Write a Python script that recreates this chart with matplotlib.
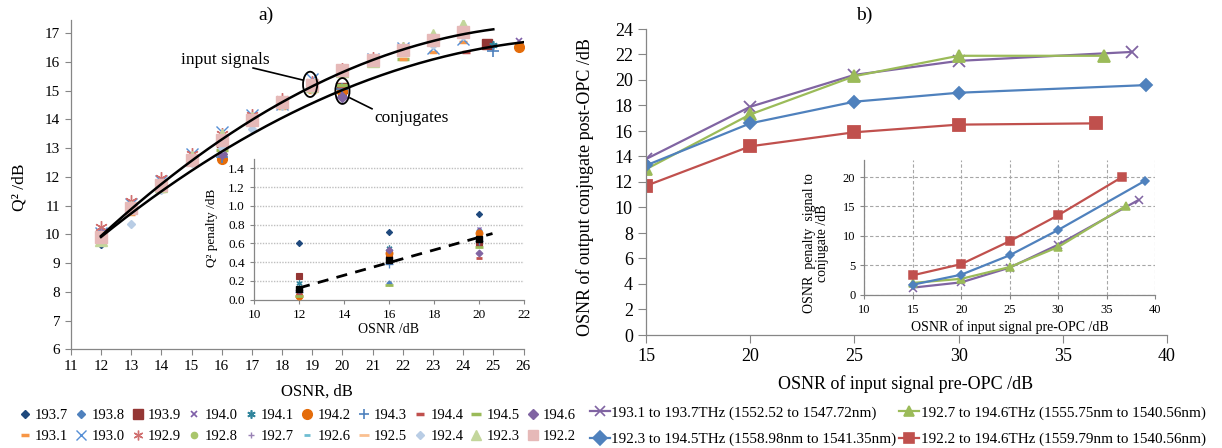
import matplotlib
matplotlib.use("Agg")
import matplotlib.pyplot as plt
import numpy as np
from matplotlib.lines import Line2D
from matplotlib.patches import Ellipse

plt.rcParams["font.family"] = ["Liberation Serif", "DejaVu Serif"]

# ---------------- panel a) data ----------------
osnr_input = [12, 13, 14, 15, 16, 17, 18, 19, 20, 21, 22, 23, 24]
q2_1931 = [9.80, 10.70, 11.50, 12.45, 13.45, 13.85, 14.40, 14.95, 15.60, 15.90, 16.10, 16.35, 16.70]
q2_1930 = [10.05, 11.05, 11.85, 12.80, 13.55, 14.15, 14.55, 15.40, 15.70, 16.10, 16.50, 16.50, 16.80]
q2_1929 = [10.25, 11.15, 11.95, 12.80, 13.50, 14.15, 14.70, 15.30, 15.75, 16.15, 16.50, 16.85, 17.10]
q2_1928 = [9.80, 10.80, 11.60, 12.50, 13.15, 13.85, 14.50, 15.05, 15.60, 16.00, 16.35, 16.70, 17.00]
q2_1927 = [10.10, 11.05, 11.85, 12.75, 13.40, 14.10, 14.70, 15.30, 15.75, 16.15, 16.55, 16.85, 17.10]
q2_1926 = [9.95, 10.90, 11.70, 12.60, 13.25, 13.95, 14.60, 15.15, 15.70, 16.05, 16.45, 16.75, 17.05]
q2_1925 = [9.90, 10.85, 11.65, 12.55, 13.20, 13.90, 14.55, 15.10, 15.65, 16.00, 16.40, 16.70, 17.00]
q2_1924 = [9.85, 10.35, 11.55, 12.50, 13.00, 13.65, 14.45, 15.05, 15.60, 15.95, 16.35, 16.60, 16.90]
q2_1923 = [9.80, 10.95, 11.70, 12.70, 13.45, 14.05, 14.60, 15.15, 15.70, 16.05, 16.50, 16.95, 17.30]
q2_1922 = [9.92, 10.91, 11.72, 12.59, 13.29, 13.98, 14.62, 15.20, 15.72, 16.07, 16.42, 16.77, 17.05]

osnr_conj = [12, 16, 20]
q2c_1937 = [9.68, 12.75, 14.85]
q2c_1938 = [9.85, 13.10, 14.95]
q2c_1939 = [9.95, 13.20, 15.10]
q2c_1940 = [10.05, 12.85, 14.95]
q2c_1941 = [9.90, 12.90, 15.00]
q2c_1942 = [9.90, 12.62, 15.00]
q2c_1943 = [9.85, 12.70, 15.05]
q2c_1944 = [9.95, 12.85, 15.15]
q2c_1945 = [9.90, 12.95, 15.20]
q2c_1946 = [10.10, 12.80, 14.78]
# extra conjugate points at high OSNR (nan = none)
hi_osnr = [np.nan, np.nan, 24.78, 25.85, 25.0, 25.85, 25.0, 24.1, 22.0, np.nan]
hi_q2 = [np.nan, np.nan, 16.62, 16.72, 16.60, 16.52, 16.38, 16.35, 16.10, np.nan]

# inset a): Q2 penalty at OSNR 12/16/20
pen_1937 = [0.60, 0.72, 0.91]
pen_1938 = [0.04, 0.18, 0.74]
pen_1939 = [0.25, 0.48, 0.60]
pen_1940 = [0.05, 0.40, 0.75]
pen_1941 = [0.18, 0.55, 0.65]
pen_1942 = [0.04, 0.50, 0.71]
pen_1943 = [0.08, 0.38, 0.62]
pen_1944 = [0.06, 0.44, 0.44]
pen_1945 = [0.04, 0.16, 0.56]
pen_1946 = [0.10, 0.53, 0.50]
pen_avg = [0.11, 0.42, 0.65]

conj_labels = ["193.7", "193.8", "193.9", "194.0", "194.1", "194.2", "194.3", "194.4", "194.5", "194.6"]
input_labels = ["193.1", "193.0", "192.9", "192.8", "192.7", "192.6", "192.5", "192.4", "192.3", "192.2"]

# ---------------- panel b) data ----------------
b_labels = ["193.1 to 193.7THz (1552.52 to 1547.72nm)",
            "192.7 to 194.6THz (1555.75nm to 1540.56nm)",
            "192.3 to 194.5THz (1558.98nm to 1541.35nm)",
            "192.2 to 194.6THz (1559.79nm to 1540.56nm)"]
osnr_in_purple = [15, 20, 25, 30, 38.3]
osnr_out_purple = [13.8, 17.9, 20.4, 21.5, 22.2]
osnr_in_green = [15, 20, 25, 30, 37]
osnr_out_green = [13.0, 17.3, 20.3, 21.9, 21.9]
osnr_in_blue = [15, 20, 25, 30, 39]
osnr_out_blue = [13.3, 16.6, 18.3, 19.0, 19.6]
osnr_in_red = [15, 20, 25, 30, 36.6]
osnr_out_red = [11.7, 14.8, 15.9, 16.5, 16.6]

# ---------------- styles ----------------
conj_styles = [
    dict(marker="D", color="#1F497D", ms=4.5),
    dict(marker="D", color="#4F81BD", ms=3.8),
    dict(marker="s", color="#943634", ms=7),
    dict(marker="x", color="#7F5FA8", ms=5, mew=1.2),
    dict(marker=(6, 2, 0), color="#31859C", ms=6, mew=1.2),
    dict(marker="o", color="#E46C0A", ms=7),
    dict(marker="+", color="#4F81BD", ms=8, mew=1.2),
    dict(marker="_", color="#C0504D", ms=6, mew=2.5),
    dict(marker="_", color="#9BBB59", ms=9, mew=2.5),
    dict(marker="D", color="#8064A2", ms=5),
]
input_styles = [
    dict(marker="_", color="#F79646", ms=6, mew=2.5),
    dict(marker="x", color="#558ED5", ms=8, mew=1.0),
    dict(marker=(6, 2, 0), color="#D07070", ms=9, mew=1.0),
    dict(marker="o", color="#A9C66B", ms=4.5),
    dict(marker="+", color="#9983B5", ms=5, mew=1.0),
    dict(marker="_", color="#6FBDD1", ms=4, mew=2),
    dict(marker="_", color="#FAC090", ms=7, mew=2),
    dict(marker="D", color="#B9CDE5", ms=4),
    dict(marker="^", color="#C3D69B", ms=8),
    dict(marker="s", color="#E6B9B8", ms=8.5),
]

AXC = "#868686"
W, H = 1222, 448


def style_axes(ax, labelsize, ticklen=4):
    for side in ("top", "right"):
        ax.spines[side].set_visible(False)
    for side in ("left", "bottom"):
        ax.spines[side].set_color(AXC)
        ax.spines[side].set_linewidth(0.9)
    ax.tick_params(direction="out", length=ticklen, color=AXC, labelsize=labelsize,
                   labelcolor="black", width=0.8)


fig = plt.figure(figsize=(W / 100, H / 100), dpi=100)

# ================= panel a =================
ax_a = fig.add_axes([70.8 / W, 1 - 349.3 / H, 452.7 / W, 329.3 / H])
style_axes(ax_a, 11)
ax_a.set_xlim(11, 26)
ax_a.set_ylim(6, 17.46)
ax_a.set_xticks(range(11, 27))
ax_a.set_yticks(range(6, 18))

conj_q2 = [q2c_1937, q2c_1938, q2c_1939, q2c_1940, q2c_1941,
           q2c_1942, q2c_1943, q2c_1944, q2c_1945, q2c_1946]
input_q2 = [q2_1931, q2_1930, q2_1929, q2_1928, q2_1927,
            q2_1926, q2_1925, q2_1924, q2_1923, q2_1922]

cx_all, cy_all = [], []
for i, (vals, st) in enumerate(zip(conj_q2, conj_styles)):
    xs = list(osnr_conj)
    ys = list(vals)
    if not np.isnan(hi_osnr[i]):
        xs.append(hi_osnr[i])
        ys.append(hi_q2[i])
    ax_a.plot(xs, ys, linestyle="none", marker=st["marker"], color=st["color"],
              ms=st["ms"], mew=st.get("mew", 1), zorder=3)
    cx_all += xs
    cy_all += ys

ix_all, iy_all = [], []
for vals, st in zip(input_q2, input_styles):
    ax_a.plot(osnr_input, vals, linestyle="none", marker=st["marker"], color=st["color"],
              ms=st["ms"], mew=st.get("mew", 1), zorder=4)
    ix_all += osnr_input
    iy_all += vals

# polynomial trendlines (order 2) through input signals and conjugates
p_in = np.polyfit(ix_all, iy_all, 2)
p_cj = np.polyfit(cx_all, cy_all, 2)
xx = np.linspace(12, 25, 200)
ax_a.plot(xx, np.polyval(p_in, xx), color="black", lw=1.8, zorder=5)
xx = np.linspace(12, 26, 200)
ax_a.plot(xx, np.polyval(p_cj, xx), color="black", lw=1.8, zorder=5)

ax_a.add_patch(Ellipse((18.93, 15.22), 0.47, 0.88, fill=False, lw=1.3, ec="black", zorder=6))
ax_a.add_patch(Ellipse((20.0, 14.99), 0.47, 0.90, fill=False, lw=1.3, ec="black", zorder=6))
ax_a.plot([17.04, 18.69], [15.79, 15.37], color="black", lw=1.2, zorder=6)
ax_a.plot([20.25, 20.98], [14.75, 14.37], color="black", lw=1.2, zorder=6)
ax_a.text(16.11, 16.07, "input signals", ha="center", va="center", fontsize=12.5)
ax_a.text(22.28, 14.05, "conjugates", ha="center", va="center", fontsize=12.5)

fig.text(266 / W, 1 - 15 / H, "a)", ha="center", va="center", fontsize=14)
fig.text(20 / W, 1 - 187 / H, "Q² /dB", rotation=90, ha="center", va="center", fontsize=12.5)
fig.text(317 / W, 1 - 392 / H, "OSNR, dB", ha="center", va="center", fontsize=12)

# inset a
ax_ai = fig.add_axes([254 / W, 1 - 299.5 / H, 270 / W, 140.6 / H])
ax_ai.patch.set_alpha(0)
style_axes(ax_ai, 9.5, ticklen=3)
ax_ai.set_xlim(10, 22)
ax_ai.set_ylim(0, 1.5)
ax_ai.set_xticks(range(10, 23, 2))
ax_ai.set_yticks(np.arange(0, 1.41, 0.2))
ax_ai.yaxis.set_major_formatter(matplotlib.ticker.FormatStrFormatter("%.1f"))
for yv in np.arange(0.2, 1.41, 0.2):
    ax_ai.axhline(yv, color="#BFBFBF", lw=1.0, ls=(0, (1, 1)), zorder=0)
pens = [pen_1937, pen_1938, pen_1939, pen_1940, pen_1941,
        pen_1942, pen_1943, pen_1944, pen_1945, pen_1946]
for vals, st in zip(pens, conj_styles):
    ax_ai.plot(osnr_conj, vals, linestyle="none", marker=st["marker"], color=st["color"],
               ms=st["ms"] * 0.7, mew=st.get("mew", 1) * 0.8, zorder=3)
ax_ai.plot(osnr_conj, pen_avg, linestyle="none", marker="s", color="black", ms=4.5, zorder=4)
p_pen = np.polyfit(osnr_conj, pen_avg, 1)
xx = np.linspace(12, 20.6, 50)
ax_ai.plot(xx, np.polyval(p_pen, xx), color="black", lw=2, ls=(0, (4, 3)), zorder=5)
ax_ai.text(0.5, -0.21, "OSNR /dB", transform=ax_ai.transAxes, ha="center", va="center", fontsize=10)
fig.text(212 / W, 1 - 228 / H, "Q² penalty /dB", rotation=90, ha="center", va="center", fontsize=9.5)

# legend a (2 rows x 10 columns)
handles, labels = [], []
for i in range(10):
    for lab, st in ((conj_labels[i], conj_styles[i]), (input_labels[i], input_styles[i])):
        handles.append(Line2D([], [], linestyle="none", marker=st["marker"], color=st["color"],
                              ms=min(st["ms"], 7), mew=st.get("mew", 1)))
        labels.append(lab)
fig.legend(handles, labels, ncol=10, loc="upper left", bbox_to_anchor=(19 / W, 1 - 409 / H),
           frameon=False, fontsize=10.5, handlelength=0.8, handletextpad=0.3,
           columnspacing=0.5, labelspacing=0.55, borderpad=0, borderaxespad=0)

# ================= panel b =================
ax_b = fig.add_axes([646 / W, 1 - 335 / H, 521 / W, 306 / H])
style_axes(ax_b, 13, ticklen=6)
ax_b.set_xlim(15, 40)
ax_b.set_ylim(0, 24)
ax_b.set_xticks(range(15, 41, 5))
ax_b.set_yticks(range(0, 25, 2))

b_series = [
    (osnr_in_purple, osnr_out_purple, "#8064A2", "x", 9, 6),
    (osnr_in_green, osnr_out_green, "#9BBB59", "^", 8, 6),
    (osnr_in_blue, osnr_out_blue, "#4F81BD", "D", 6, 4.5),
    (osnr_in_red, osnr_out_red, "#C0504D", "s", 8, 6),
]
for xin, yout, col, mk, ms, _ in b_series:
    ax_b.plot(xin, yout, color=col, marker=mk, ms=ms, lw=1.6, mew=1.3)

fig.text(864 / W, 1 - 15 / H, "b)", ha="center", va="center", fontsize=14)
fig.text(585 / W, 1 - 187 / H, "OSNR of output conjugate post-OPC /dB", rotation=90,
         ha="center", va="center", fontsize=13)
fig.text(906 / W, 1 - 384 / H, "OSNR of input signal pre-OPC /dB", ha="center", va="center", fontsize=13)

# inset b: penalty = input OSNR - output conjugate OSNR
ax_bi = fig.add_axes([864.3 / W, 1 - 294.7 / H, 290.7 / W, 134.7 / H])
ax_bi.patch.set_alpha(0)
style_axes(ax_bi, 9, ticklen=3)
ax_bi.set_xlim(10, 40)
ax_bi.set_ylim(0, 22.9)
ax_bi.set_xticks(range(10, 41, 5))
ax_bi.set_yticks(range(0, 21, 5))
ax_bi.grid(True, color="#A6A6A6", ls=(0, (3, 2)), lw=0.8)
ax_bi.set_axisbelow(True)
for xin, yout, col, mk, _, ms in b_series:
    pen = np.array(xin) - np.array(yout)
    ax_bi.plot(xin, pen, color=col, marker=mk, ms=ms, lw=1.6, mew=1.1)
ax_bi.text(0.5, -0.24, "OSNR of input signal pre-OPC /dB", transform=ax_bi.transAxes,
           ha="center", va="center", fontsize=10)
fig.text(816 / W, 1 - 243 / H, "OSNR  penalty  signal to\nconjugate /dB", rotation=90,
         ha="center", va="center", fontsize=10, linespacing=1.0)

# legend b: row 1 purple / green, row 2 blue / red
hb = [Line2D([], [], color=c, marker=m, ms=7, lw=1.6, mew=1.2) for _, _, c, m, _, _ in b_series]
order = [0, 2, 1, 3]
fig.legend([hb[k] for k in order], [b_labels[k] for k in order], ncol=2, loc="upper left",
           bbox_to_anchor=(590 / W, 1 - 406 / H),
           frameon=False, fontsize=10.9, handlelength=1.3, handletextpad=0.1,
           columnspacing=0.2, labelspacing=0.85, borderpad=0, borderaxespad=0)

fig.savefig("out.png", dpi=100)
